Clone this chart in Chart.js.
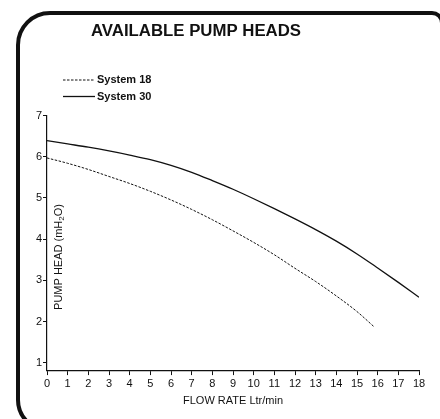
<!DOCTYPE html>
<html>
<head>
<meta charset="utf-8">
<script src="https://cdn.jsdelivr.net/npm/chart.js@4/dist/chart.umd.min.js"></script>
<style>
  html, body { margin: 0; padding: 0; background: #fff; }
  #wrap { width: 440px; height: 419px; }
</style>
</head>
<body>
<div id="wrap"><canvas id="chart" width="440" height="419"></canvas></div>
<script>
// values
const chartTitle = 'AVAILABLE PUMP HEADS'
const xTitle = 'FLOW RATE Ltr/min'
const xTicks = [0, 1, 2, 3, 4, 5, 6, 7, 8, 9, 10, 11, 12, 13, 14, 15, 16, 17, 18]
const yTicks = [1, 2, 3, 4, 5, 6, 7]

const system30Flow = [0, 1, 2, 3, 4, 5, 6, 7, 8, 9, 10, 11, 12, 13, 14, 15, 16, 17, 18]
const system30Head = [6.39, 6.31, 6.23, 6.14, 6.04, 5.93, 5.79, 5.62, 5.42, 5.21, 4.98, 4.74, 4.49, 4.23, 3.95, 3.64, 3.30, 2.95, 2.59]

const system18Flow = [0, 1, 2, 3, 4, 5, 6, 7, 8, 9, 10, 11, 12, 13, 14, 15, 15.83]
const system18Head = [5.97, 5.84, 5.69, 5.52, 5.35, 5.16, 4.95, 4.72, 4.47, 4.20, 3.92, 3.62, 3.29, 2.97, 2.62, 2.24, 1.87]

const FONT = '"Liberation Sans", Arial, Helvetica, sans-serif'
const INK = '#111'

const toPoints = (xs, ys) => xs.map((x, i) => ({ x: x, y: ys[i] }))

// frame, title, legend and the y title sitting inside the plot
const decorations = {
  id: 'decorations',
  beforeDraw(chart) {
    const ctx = chart.ctx
    ctx.save()
    ctx.fillStyle = '#fff'
    ctx.fillRect(0, 0, chart.width, chart.height)

    // rounded border
    ctx.strokeStyle = INK
    ctx.lineWidth = 4
    ctx.beginPath()
    ctx.moveTo(18, 250)
    ctx.arcTo(18, 13, 200, 13, 32)
    ctx.arcTo(442, 13, 442, 300, 10)
    ctx.lineTo(442, 430)
    ctx.moveTo(18, 250)
    ctx.arcTo(18, 430, 200, 430, 30)
    ctx.lineTo(300, 430)
    ctx.stroke()
    ctx.restore()
  },
  afterDraw(chart) {
    const ctx = chart.ctx
    const area = chart.chartArea
    ctx.save()
    ctx.fillStyle = INK
    ctx.textBaseline = 'middle'

    ctx.font = 'bold 16.8px ' + FONT
    ctx.textAlign = 'center'
    ctx.fillText(chartTitle, 196, 31)

    // legend, reverse order of datasets as in the picture
    ctx.textAlign = 'left'
    ctx.font = 'bold 11px ' + FONT
    const order = [1, 0]
    order.forEach((di, row) => {
      const ds = chart.data.datasets[di]
      const y = 80 + row * 16.5
      ctx.beginPath()
      ctx.strokeStyle = INK
      ctx.lineWidth = ds.borderWidth
      ctx.setLineDash(ds.borderDash || [])
      ctx.moveTo(63, y)
      ctx.lineTo(95, y)
      ctx.stroke()
      ctx.setLineDash([])
      ctx.fillText(ds.label, 97, y)
    })

    // y title with subscript 2
    ctx.translate(area.left + 11.5, 257)
    ctx.rotate(-Math.PI / 2)
    const parts = [['PUMP HEAD (mH', 11, 0], ['2', 8, 3], ['O)', 11, 0]]
    let total = 0
    parts.forEach(p => { ctx.font = p[1] + 'px ' + FONT; total += ctx.measureText(p[0]).width })
    let x = -total / 2
    parts.forEach(p => {
      ctx.font = p[1] + 'px ' + FONT
      ctx.fillText(p[0], x, p[2])
      x += ctx.measureText(p[0]).width
    })
    ctx.restore()
  }
}

new Chart(document.getElementById('chart').getContext('2d'), {
  type: 'line',
  data: {
    datasets: [
      {
        label: 'System 30',
        data: toPoints(system30Flow, system30Head),
        borderColor: INK,
        borderWidth: 1.3,
        pointRadius: 0,
        fill: false,
        cubicInterpolationMode: 'monotone'
      },
      {
        label: 'System 18',
        data: toPoints(system18Flow, system18Head),
        borderColor: INK,
        borderWidth: 1,
        borderDash: [2.5, 1.5],
        pointRadius: 0,
        fill: false,
        cubicInterpolationMode: 'monotone'
      }
    ]
  },
  options: {
    responsive: false,
    animation: false,
    layout: {
      padding: { top: 115.5, left: 17, right: 21, bottom: 7.5 }
    },
    scales: {
      x: {
        type: 'linear',
        min: 0,
        max: 18,
        afterBuildTicks: scale => { scale.ticks = xTicks.map(v => ({ value: v })) },
        grid: { display: true, drawOnChartArea: false, tickLength: 5, color: INK },
        border: { display: true, color: INK, width: 1.2 },
        ticks: { color: INK, padding: 2, maxRotation: 0, autoSkip: false, font: { family: FONT, size: 11 } },
        title: { display: true, text: xTitle, color: INK, padding: { top: 2, bottom: 4 }, font: { family: FONT, size: 11 } }
      },
      y: {
        type: 'linear',
        min: 0.82,
        max: 7,
        afterBuildTicks: scale => { scale.ticks = yTicks.map(v => ({ value: v })) },
        afterFit: scale => { scale.width = 30 },
        grid: { display: true, drawOnChartArea: false, tickLength: 4, color: INK },
        border: { display: true, color: INK, width: 1.2 },
        ticks: { color: INK, padding: 1, font: { family: FONT, size: 11 } }
      }
    },
    plugins: {
      legend: { display: false },
      tooltip: { enabled: false }
    }
  },
  plugins: [decorations]
})
</script>
</body>
</html>
